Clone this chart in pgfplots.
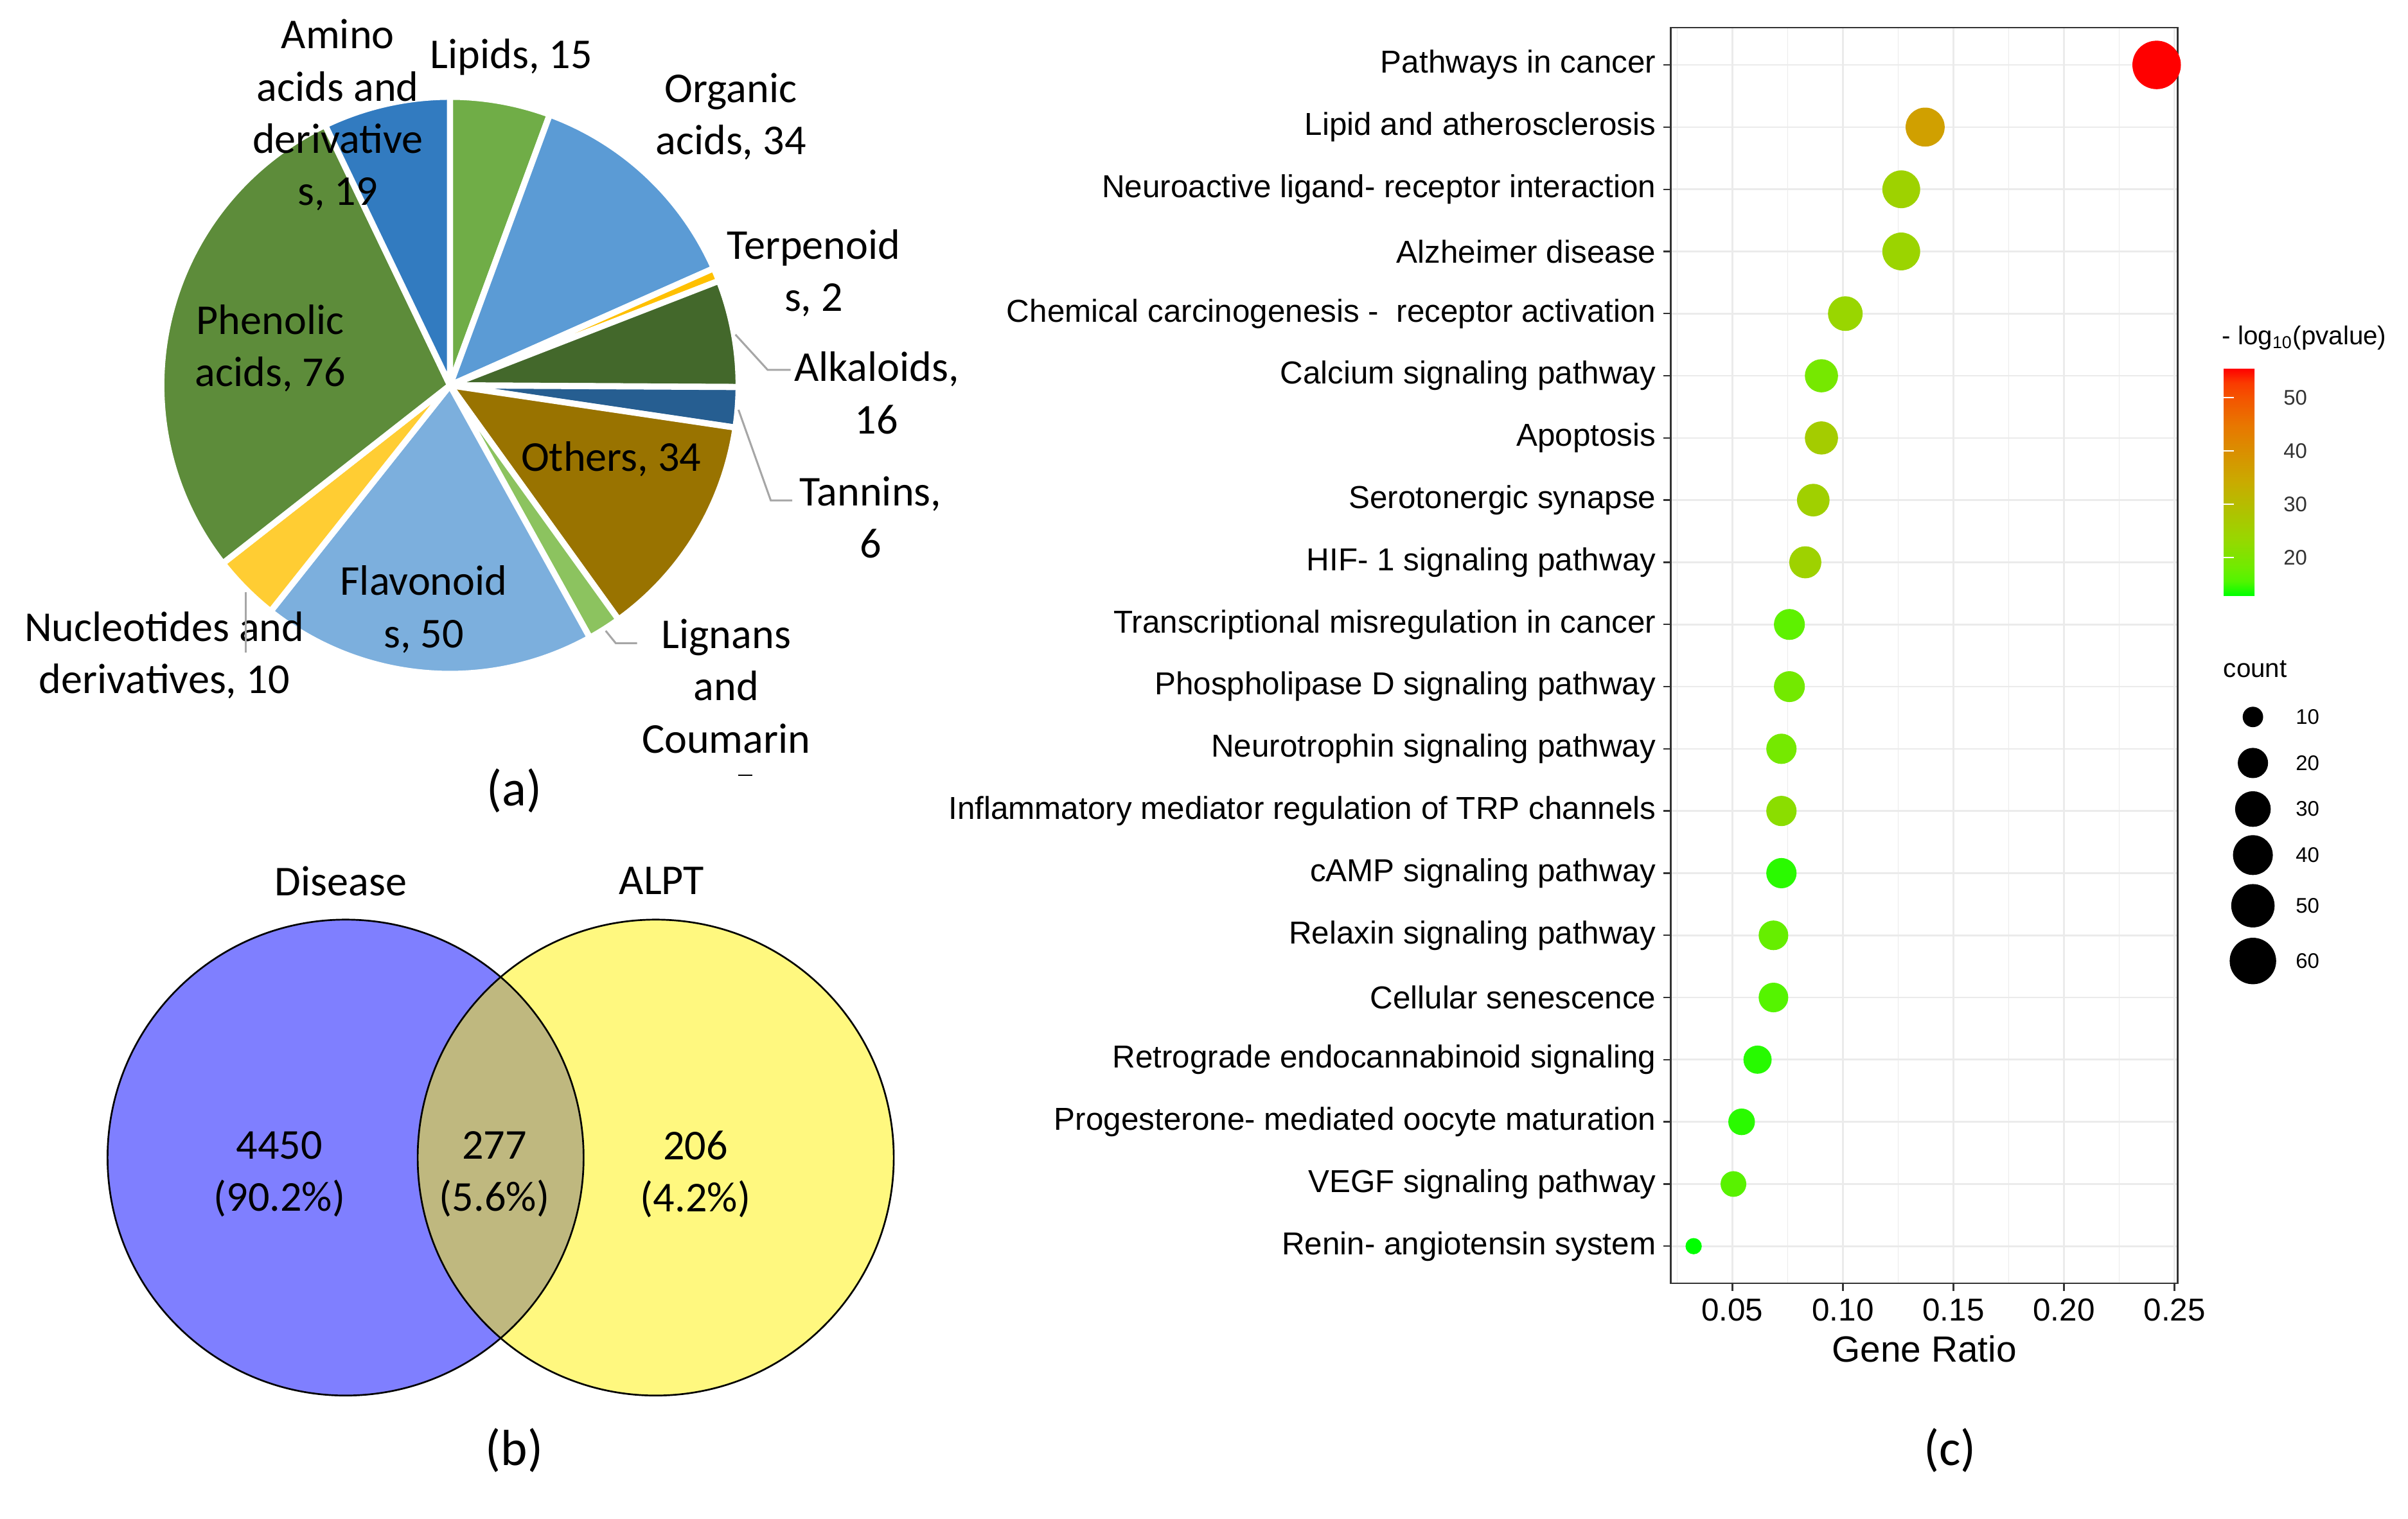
\documentclass[border=0pt]{standalone}
\usepackage{pgfplots}
\pgfplotsset{compat=1.18}
\usepackage{pgfplotstable}
\usepackage{fontspec}
\setmainfont{Carlito}
\newfontfamily\arial{Liberation Sans}

% pie colours (Excel palette)
\definecolor{cLip}{RGB}{112,173,71}
\definecolor{cOrg}{RGB}{91,155,213}
\definecolor{cTer}{RGB}{255,192,0}
\definecolor{cAlk}{RGB}{67,104,43}
\definecolor{cTan}{RGB}{38,94,145}
\definecolor{cOth}{RGB}{153,115,0}
\definecolor{cLig}{RGB}{140,195,95}
\definecolor{cFla}{RGB}{124,175,221}
\definecolor{cNuc}{RGB}{255,205,51}
\definecolor{cPhe}{RGB}{93,140,58}
\definecolor{cAmi}{RGB}{50,123,192}
\definecolor{gridc}{RGB}{235,235,235}
\definecolor{boxc}{RGB}{51,51,51}
\definecolor{leadc}{RGB}{166,166,166}

\newcommand\pief{\fontsize{19.7}{24.2}\selectfont}
\newcommand\tagf{\fontsize{23.5}{28}\selectfont}
\newcommand\ylf{\arial\fontsize{14.7}{17}\selectfont}
\newcommand\legf{\arial\fontsize{9.8}{11}\selectfont}
\newcommand\legtf{\arial\fontsize{12}{14}\selectfont}

% (a) compound classes
\pgfplotstableread{
value col
15 cLip
34 cOrg
2  cTer
16 cAlk
6  cTan
34 cOth
5  cLig
50 cFla
10 cNuc
76 cPhe
19 cAmi
}\piedata

% (c) KEGG enrichment, y = row from bottom
\pgfplotstableread{
y  ratio  count logp
20 0.2419 67 55.5
19 0.1372 38 36.4
18 0.1264 35 24.7
17 0.1264 35 24.2
16 0.1011 28 23.7
15 0.0903 25 18.9
14 0.0903 25 26.1
13 0.0866 24 25.2
12 0.0830 23 24.8
11 0.0758 21 16.6
10 0.0758 21 18.6
9  0.0722 20 18.8
8  0.0722 20 21.8
7  0.0722 20 14.2
6  0.0686 19 17.3
5  0.0686 19 15.8
4  0.0614 17 14.1
3  0.0542 15 14.2
2  0.0505 14 16.2
1  0.0325 9  12.8
}\dotdata

% size key
\pgfplotstableread{
x  y    count
20 -20  10
20 -50  20
20 -80  30
20 -110 40
20 -143 50
20 -179 60
}\sizekey

% marker radius from count (area-type scale)
\pgfplotsset{
  dotsize/.style={
    visualization depends on={0.3557*(10+21*sqrt((\thisrow{count}-9)/58)) \as \msize},
    scatter/@pre marker code/.append style={/tikz/mark size=\msize},
  },
}

\begin{document}
\begin{tikzpicture}
\path[use as bounding box] (0,0) rectangle (39.2cm,24.725cm);

% ---------- (a) pie ----------
\pgfplotstablegetrowsof{\piedata}
\pgfmathtruncatemacro{\pieLast}{\pgfplotsretval-1}
\gdef\pieTot{0}
\pgfplotsforeachungrouped \i in {0,...,\pieLast}{%
  \pgfplotstablegetelem{\i}{value}\of\piedata
  \pgfmathsetmacro{\pieTot}{\pieTot+\pgfplotsretval}%
}
\begin{axis}[at={(7.325cm,18.45cm)}, anchor=center,
  x=0.025cm, y=0.025cm, xmin=-300, xmax=300, ymin=-300, ymax=300,
  hide axis, clip=false]
\gdef\pieCum{0}
\pgfplotsforeachungrouped \i in {0,...,\pieLast}{%
  \pgfplotstablegetelem{\i}{value}\of\piedata \let\pieV\pgfplotsretval
  \pgfplotstablegetelem{\i}{col}\of\piedata \let\pieC\pgfplotsretval
  \pgfmathsetmacro{\aS}{90-360*(\pieCum/\pieTot)}%
  \pgfmathsetmacro{\pieCum}{\pieCum+\pieV}%
  \pgfmathsetmacro{\aE}{90-360*(\pieCum/\pieTot)}%
  \pgfmathsetmacro{\sx}{188*cos(\aS)}%
  \pgfmathsetmacro{\sy}{188*sin(\aS)}%
  \edef\wedgecmd{\noexpand\filldraw[fill=\pieC, draw=white, line width=0.1cm, line join=round]
    (axis cs:0,0) -- (axis cs:\sx,\sy) arc[start angle=\aS, end angle=\aE, radius=4.7cm] -- cycle;}%
  \wedgecmd
}
\end{axis}

% ---------- (b) Venn ----------
\begin{axis}[at={(8.15cm,5.875cm)}, anchor=center,
  x=0.025cm, y=0.025cm, xmin=-300, xmax=300, ymin=-200, ymax=200,
  hide axis, clip=false]
\fill[blue, fill opacity=0.5] (axis cs:-101,0) circle[radius=3.875cm];
\fill[yellow, fill opacity=0.5] (axis cs:101,0) circle[radius=3.875cm];
\draw[black, line width=0.8pt] (axis cs:-101,0) circle[radius=3.875cm];
\draw[black, line width=0.8pt] (axis cs:101,0) circle[radius=3.875cm];
\end{axis}

% ---------- (c) dot plot ----------
\begin{axis}[
  at={(27.2cm,3.825cm)}, anchor=south west,
  scale only axis, width=8.25cm, height=20.45cm,
  xmin=0.0222, xmax=0.2514, ymin=0.4, ymax=20.6,
  xtick={0.05,0.10,0.15,0.20,0.25},
  xticklabels={0.05,0.10,0.15,0.20,0.25},
  minor xtick={0.025,0.075,0.125,0.175,0.225},
  ytick={1,...,20},
  yticklabels={Renin- angiotensin system,
    VEGF signaling pathway,
    Progesterone- mediated oocyte maturation,
    Retrograde endocannabinoid signaling,
    Cellular senescence,
    Relaxin signaling pathway,
    cAMP signaling pathway,
    Inflammatory mediator regulation of TRP channels,
    Neurotrophin signaling pathway,
    Phospholipase D signaling pathway,
    Transcriptional misregulation in cancer,
    HIF- 1 signaling pathway,
    Serotonergic synapse,
    Apoptosis,
    Calcium signaling pathway,
    Chemical carcinogenesis - \ receptor activation,
    Alzheimer disease,
    Neuroactive ligand- receptor interaction,
    Lipid and atherosclerosis,
    Pathways in cancer},
  xmajorgrids, xminorgrids, ymajorgrids,
  major grid style={draw=gridc, line width=0.8pt},
  minor grid style={draw=gridc, line width=0.45pt},
  axis line style={draw=boxc, line width=0.7pt},
  tick align=outside,
  major tick length=0.12cm, minor tick length=0pt,
  major tick style={draw=boxc, line width=0.7pt},
  xtick pos=left, ytick pos=left,
  ticklabel style={font=\ylf, text=black},
  xlabel={Gene Ratio},
  xlabel style={font=\arial\fontsize{16.9}{20}\selectfont},
  colormap={gg}{rgb255(0cm)=(0,255,0) rgb255(1cm)=(81,245,0)
    rgb255(2cm)=(112,235,0) rgb255(4cm)=(152,215,0) rgb255(8cm)=(201,171,0)
    rgb255(12cm)=(232,119,0) rgb255(14cm)=(244,83,0) rgb255(15cm)=(250,58,0)
    rgb255(16cm)=(255,0,0)},
  point meta min=12.8, point meta max=55.5,
  colorbar, colorbar shift/.style={},
  colorbar style={
    at={(parent axis.north east)}, anchor=north west,
    xshift=0.75cm, yshift=-5.55cm,
    width=0.75cm, height=3.7cm,
    ytick={20,30,40,50},
    ytick pos=both, yticklabel pos=right,
    tick align=inside,
    major tick length=0.16cm,
    major tick style={draw=white, line width=0.6pt},
    axis line style={draw=none},
    axis on top,
    yticklabel style={font=\legf, text=black!80, xshift=0.1cm},
    /pgf/number format/assume math mode=true,
  },
]
\addplot[scatter, only marks, mark=*, point meta=\thisrow{logp},
  scatter/use mapped color={draw=mapped color, fill=mapped color},
  dotsize]
  table[x=ratio, y=y] \dotdata;
\end{axis}

% size key for count
\begin{axis}[at={(36.175cm,13.55cm)}, anchor=north west,
  x=0.025cm, y=0.025cm, xmin=0, xmax=100, ymin=-200, ymax=0,
  hide axis, clip=false]
\addplot[scatter, only marks, mark=*, point meta=\thisrow{count},
  scatter/use mapped color={draw=black, fill=black},
  dotsize]
  table[x=x, y=y] \sizekey;
\end{axis}

% ---------- text, leaders ----------
\begin{scope}[x=0.025cm, y=-0.025cm, shift={(0cm,24.725cm)}]
\begin{scope}[every node/.style={font=\pief, align=center, inner sep=0pt}]
\node at (220,75) {Amino\\acids and\\derivative\\s, 19};
\node at (333,37) {Lipids, 15};
\node at (476,76) {Organic\\acids, 34};
\node at (530,178) {Terpenoid\\s, 2};
\node at (571,256) {Alkaloids,\\16};
\node at (567,337) {Tannins,\\6};
\node at (398,299) {Others, 34};
\node at (473,447) {Lignans\\and\\Coumarin};
\node at (276,397) {Flavonoid\\s, 50};
\node at (176,227) {Phenolic\\acids, 76};
\node at (107,427) {Nucleotides and\\derivatives, 10};
\node at (222,574) {Disease};
\node at (431,574) {ALPT};
\node at (182,765) {4450\\(90.2\%)};
\node at (322,765) {277\\(5.6\%)};
\node at (453,765) {206\\(4.2\%)};
\end{scope}
\draw[leadc, line width=0.9pt] (479,218) -- (500,241) -- (515,241);
\draw[leadc, line width=0.9pt] (481,267) -- (502,326) -- (516,326);
\draw[leadc, line width=0.9pt] (394.5,411) -- (401,419) -- (415,419);
\draw[leadc, line width=0.9pt] (160,386) -- (160,425);
\draw[black, line width=0.7pt] (481,505) -- (490,505);
\node[font=\tagf] at (335,515) {(a)};
\node[font=\tagf] at (335,945) {(b)};
\node[font=\tagf] at (1270,945) {(c)};
\node[font=\legtf, anchor=west, inner sep=0pt] at (1447,220) {- log\textsubscript{10}(pvalue)};
\node[font=\legtf, anchor=west, inner sep=0pt] at (1448,436) {count};
\foreach \yy/\lab in {467/10,497/20,527/30,557/40,590/50,626/60}
  \node[font=\legf, anchor=west, inner sep=0pt] at (1495,\yy) {\lab};
\end{scope}
\end{tikzpicture}
\end{document}
